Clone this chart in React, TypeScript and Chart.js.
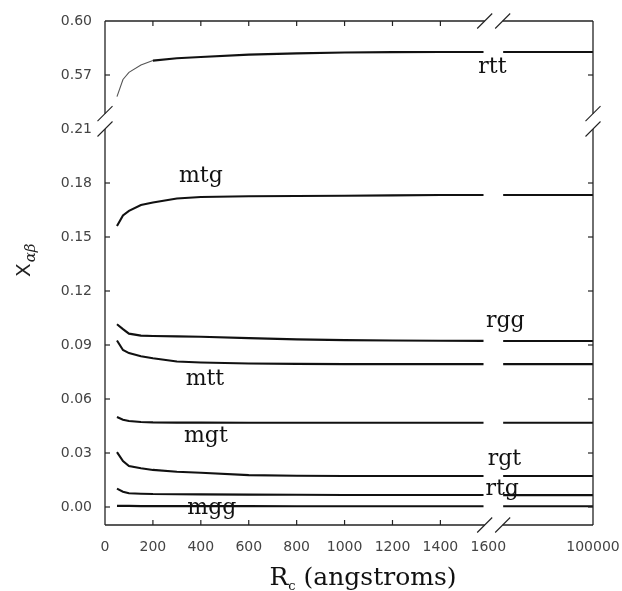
import React, { useEffect, useRef } from "react";
import { Chart, registerables } from "chart.js";

Chart.register(...registerables);

// Radius values (angstroms); the last one sits after the x-axis break
const R_VALUES = [50, 75, 100, 150, 200, 300, 400, 600, 800, 1000, 1200, 1400, 1580, 100000];

const SERIES_NAMES = ["rtt", "mtg", "rgg", "mtt", "mgt", "rgt", "rtg", "mgg"];
const rtt = [0.558, 0.5675, 0.5715, 0.5755, 0.578, 0.5793, 0.58, 0.5813, 0.582, 0.5825, 0.5827, 0.5828, 0.5828, 0.5828];
const mtg = [0.1561, 0.162, 0.1645, 0.1678, 0.1692, 0.1714, 0.1722, 0.1726, 0.1728, 0.1729, 0.1731, 0.1733, 0.1733, 0.1733];
const rgg = [0.1015, 0.0988, 0.0963, 0.0952, 0.095, 0.0948, 0.0946, 0.0938, 0.0931, 0.0927, 0.0925, 0.0924, 0.0923, 0.0922];
const mtt = [0.0925, 0.0872, 0.0855, 0.0838, 0.0826, 0.0808, 0.0803, 0.0797, 0.0795, 0.0794, 0.0794, 0.0794, 0.0794, 0.0794];
const mgt = [0.05, 0.0485, 0.0478, 0.0472, 0.047, 0.0469, 0.0469, 0.0468, 0.0468, 0.0468, 0.0468, 0.0468, 0.0468, 0.0468];
const rgt = [0.0305, 0.0255, 0.0228, 0.0215, 0.0206, 0.0196, 0.019, 0.0177, 0.0174, 0.0172, 0.0172, 0.0172, 0.0172, 0.0172];
const rtg = [0.0102, 0.0085, 0.0076, 0.0074, 0.0072, 0.0071, 0.007, 0.0069, 0.0068, 0.0067, 0.0067, 0.0067, 0.0067, 0.0066];
const mgg = [0.0006, 0.0006, 0.0006, 0.0005, 0.0005, 0.0005, 0.0005, 0.0005, 0.0004, 0.0004, 0.0004, 0.0004, 0.0004, 0.0004];
const SERIES_VALUES = [rtt, mtg, rgg, mtt, mgt, rgt, rtg, mgg];
// rtt is drawn thin for small radii
const THIN_BELOW = [220, 0, 0, 0, 0, 0, 0, 0];

// Curve label positions (x in axis units, y = baseline value)
const LABEL_X = [1617, 400, 1671, 417, 421, 1667, 1658, 446];
const LABEL_Y = [0.5711, 0.1806, 0.1, 0.0678, 0.0361, 0.0233, 0.0067, -0.0039];

const X_TICKS = [0, 200, 400, 600, 800, 1000, 1200, 1400, 1600, 100000];
const Y_TICKS = [0, 0.03, 0.06, 0.09, 0.12, 0.15, 0.18, 0.21, 0.57, 0.6];
const X_INNER_TICKS = [200, 400, 600, 800, 1000, 1200, 1400];
const Y_INNER_TICKS = [0, 0.03, 0.06, 0.09, 0.12, 0.15, 0.18, 0.57];

// Broken axes
const X_BREAK_LIMIT = 1600;
const X_END_POS = 2037; // axis position of 100000
const X_RESUME_POS = 1662; // where the lines resume after the break
const X_BREAK_MARKS = [1585, 1660];
const Y_OFFSET = 0.33; // upper segment shift (0.57 -> 0.24)
const Y_BREAK_MARKS = [0.21, 0.2185];

const tx = (v: number) => (v <= X_BREAK_LIMIT ? v : X_END_POS);
const ty = (v: number) => (v > 0.3 ? v - Y_OFFSET : v);

function buildData(vals: number[]) {
  const pts: any[] = [];
  for (let i = 0; i < R_VALUES.length - 1; i++) pts.push({ x: tx(R_VALUES[i]), y: ty(vals[i]) });
  const tail = vals[vals.length - 1];
  pts.push({ x: (X_RESUME_POS + R_VALUES[R_VALUES.length - 2]) / 2, y: null });
  pts.push({ x: X_RESUME_POS, y: ty(tail) });
  pts.push({ x: tx(R_VALUES[R_VALUES.length - 1]), y: ty(tail) });
  return pts;
}

const framePlugin = {
  id: "frame",
  afterDraw(chart: any) {
    const ctx = chart.ctx;
    const xs = chart.scales.x;
    const ys = chart.scales.y;
    const { left, right, top, bottom } = chart.chartArea;
    ctx.save();
    ctx.strokeStyle = "#222";
    ctx.lineWidth = 1.3;
    const xb1 = xs.getPixelForValue(X_BREAK_MARKS[0]);
    const xb2 = xs.getPixelForValue(X_BREAK_MARKS[1]);
    const yb1 = ys.getPixelForValue(Y_BREAK_MARKS[0]);
    const yb2 = ys.getPixelForValue(Y_BREAK_MARKS[1]);
    const line = (a: number, b: number, c: number, d: number) => {
      ctx.beginPath();
      ctx.moveTo(a, b);
      ctx.lineTo(c, d);
      ctx.stroke();
    };
    for (const y of [top, bottom]) {
      line(left, y, xb1, y);
      line(xb2, y, right, y);
    }
    for (const x of [left, right]) {
      line(x, bottom, x, yb1);
      line(x, yb2, x, top);
    }
    ctx.lineWidth = 1.1;
    const s = 7.5;
    for (const y of [top, bottom]) {
      for (const x of [xb1, xb2]) line(x - s, y + s, x + s, y - s);
    }
    for (const x of [left, right]) {
      for (const y of [yb1, yb2]) line(x - s, y + s, x + s, y - s);
    }
    ctx.lineWidth = 1.2;
    const tl = 5;
    for (const v of X_INNER_TICKS) {
      const px = xs.getPixelForValue(tx(v));
      line(px, bottom, px, bottom - tl);
      line(px, top, px, top + tl);
    }
    for (const v of Y_INNER_TICKS) {
      const py = ys.getPixelForValue(ty(v));
      line(left, py, left + tl, py);
      line(right, py, right - tl, py);
    }
    // curve labels
    ctx.fillStyle = "#111";
    ctx.font = "22px 'DejaVu Serif'";
    ctx.textAlign = "center";
    ctx.textBaseline = "alphabetic";
    SERIES_NAMES.forEach((n, i) => {
      ctx.fillText(n, xs.getPixelForValue(LABEL_X[i]), ys.getPixelForValue(ty(LABEL_Y[i])));
    });
    // x title
    const cx = (left + right) / 2 + 14;
    const base = 585;
    ctx.textAlign = "left";
    ctx.font = "25px 'DejaVu Serif'";
    const wR = ctx.measureText("R").width;
    const rest = " (angstroms)";
    const wRest = ctx.measureText(rest).width;
    ctx.font = "13px 'DejaVu Serif'";
    const wC = ctx.measureText("c").width;
    const total = wR + wC + wRest;
    const x0 = cx - total / 2;
    ctx.font = "25px 'DejaVu Serif'";
    ctx.fillText("R", x0, base);
    ctx.font = "13px 'DejaVu Serif'";
    ctx.fillText("c", x0 + wR, base + 5);
    ctx.font = "25px 'DejaVu Serif'";
    ctx.fillText(rest, x0 + wR + wC, base);
    // y title
    ctx.save();
    ctx.translate(30, 277);
    ctx.rotate(-Math.PI / 2);
    ctx.font = "20px 'DejaVu Sans'";
    ctx.fillStyle = "#222";
    ctx.fillText("X", 0, 0);
    const wX = ctx.measureText("X").width;
    ctx.font = "italic 15px 'DejaVu Serif'";
    ctx.fillText("αβ", wX + 1, 5);
    ctx.restore();
    ctx.restore();
  },
};

export default function App() {
  const ref = useRef<HTMLCanvasElement | null>(null);
  useEffect(() => {
    document.body.style.margin = "0";
    if (!ref.current) return;
    const chart = new Chart(ref.current, {
      type: "line",
      data: {
        datasets: SERIES_NAMES.map((n, i) => ({
          label: n,
          data: buildData(SERIES_VALUES[i]),
          borderColor: "#111",
          borderWidth: 2.1,
          pointRadius: 0,
          fill: false,
          tension: 0,
          spanGaps: false,
          segment: {
            borderWidth: (c: any) => (c.p1.parsed.x <= THIN_BELOW[i] ? 1.1 : 2.1),
            borderColor: (c: any) => (c.p1.parsed.x <= THIN_BELOW[i] ? "#555" : "#111"),
          },
        })),
      },
      options: {
        animation: false,
        responsive: false,
        layout: { padding: { top: 21, right: 29, left: 0, bottom: 0 } },
        plugins: { legend: { display: false }, tooltip: { enabled: false } },
        scales: {
          x: {
            type: "linear",
            min: 0,
            max: X_END_POS,
            grid: { display: false, drawTicks: false },
            border: { display: false },
            afterBuildTicks: (s: any) => {
              s.ticks = X_TICKS.map((v) => ({ value: tx(v) }));
            },
            afterFit: (s: any) => {
              s.height = 66;
              s.paddingLeft = 0;
              s.paddingRight = 0;
            },
            ticks: {
              padding: 14,
              color: "#444",
              font: { family: "DejaVu Sans", size: 14 },
              maxRotation: 0,
              autoSkip: false,
              callback: (v: any) => (Number(v) > X_BREAK_LIMIT ? String(X_TICKS[X_TICKS.length - 1]) : String(Math.round(Number(v)))),
            },
          },
          y: {
            type: "linear",
            min: -0.01,
            max: ty(0.6),
            grid: { display: false, drawTicks: false },
            border: { display: false },
            afterBuildTicks: (s: any) => {
              s.ticks = Y_TICKS.map((v) => ({ value: ty(v) }));
            },
            afterFit: (s: any) => {
              s.width = 105;
              s.paddingTop = 0;
              s.paddingBottom = 0;
            },
            ticks: {
              padding: 13,
              color: "#444",
              font: { family: "DejaVu Sans", size: 14 },
              autoSkip: false,
              callback: (v: any) => {
                const n = Number(v);
                return (n > 0.22 ? n + Y_OFFSET : n).toFixed(2);
              },
            },
          },
        },
      },
      plugins: [framePlugin],
    });
    return () => chart.destroy();
  }, []);
  return (
    <div style={{ width: 622, height: 591 }}>
      <canvas ref={ref} width={622} height={591} style={{ display: "block" }} />
    </div>
  );
}
